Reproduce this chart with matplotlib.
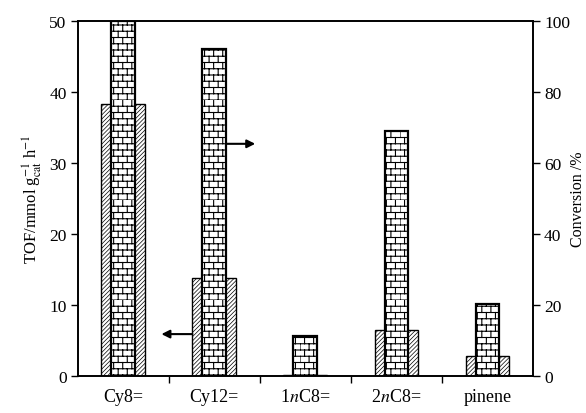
import warnings
import numpy as np
import matplotlib
matplotlib.use("Agg")
import matplotlib.pyplot as plt
from matplotlib import hatch as mhatch
from matplotlib.path import Path

warnings.filterwarnings("ignore")

# data
categories = ["Cy8=", "Cy12=", "1$n$C8=", "2$n$C8=", "pinene"]
tof = [38.3, 13.8, 0.15, 6.5, 2.8]          # mmol g_cat^-1 h^-1 (left axis)
conversion = [100.0, 92.0, 11.3, 69.0, 20.3]  # % (right axis)


class BrickHatch(mhatch.HatchPatternBase):
    """Brick wall hatch, used with the hatch character 'b'."""

    def __init__(self, hatch, density):
        self.rows = 16 if "b" in hatch else 0
        self.cols = 11
        self.num_vertices = (self.rows * 2 + self.rows * self.cols * 2) if self.rows else 0

    def set_vertices_and_codes(self, vertices, codes):
        n, m = self.rows, self.cols
        k = 0
        for i in range(n):
            y0 = i / n
            y1 = (i + 1) / n
            vertices[k] = (0.0, y0)
            vertices[k + 1] = (1.0, y0)
            codes[k] = Path.MOVETO
            codes[k + 1] = Path.LINETO
            k += 2
            off = 0.5 * (i % 2)
            for j in range(m):
                xx = (j + off) / m
                vertices[k] = (xx, y0)
                vertices[k + 1] = (xx, y1)
                codes[k] = Path.MOVETO
                codes[k + 1] = Path.LINETO
                k += 2


mhatch._hatch_types.append(BrickHatch)

plt.rcParams["font.family"] = "Liberation Serif"
plt.rcParams["mathtext.fontset"] = "stix"
plt.rcParams["hatch.linewidth"] = 0.5
plt.rcParams["hatch.color"] = "black"

fig = plt.figure(figsize=(5.86, 4.14), dpi=100)
ax = fig.add_axes([0.1325, 0.0894, 0.7770, 0.8575])
ax2 = ax.twinx()

x = np.arange(len(categories))

ax.bar(x, tof, width=0.48, color="white", edgecolor="black",
       linewidth=1.0, hatch="////////")
plt.rcParams["hatch.linewidth"] = 0.8
ax2.bar(x, conversion, width=0.26, color="white", edgecolor="black",
        linewidth=1.6, hatch="b")

ax.set_xlim(-0.5, len(categories) - 0.5)
ax.set_ylim(0, 50)
ax2.set_ylim(0, 100)

ax.set_yticks(np.arange(0, 51, 10))
ax2.set_yticks(np.arange(0, 101, 20))
ax.set_xticks(x)
ax.set_xticklabels(categories)
ax.set_xticks(np.arange(0.5, len(categories) - 1, 1.0), minor=True)

ax.tick_params(axis="x", which="major", length=0, pad=9, labelsize=13)
ax.tick_params(axis="x", which="minor", length=5, width=1.0, direction="out")
ax.tick_params(axis="y", length=5, width=1.0, direction="out", labelsize=12.5, pad=3)
ax2.tick_params(axis="y", length=5, width=1.0, direction="out", labelsize=12.5, pad=3)

for a in (ax, ax2):
    for s in a.spines.values():
        s.set_linewidth(1.2)

ax.set_ylabel("TOF/mmol g$^{-1}_{\\rm cat}$ h$^{-1}$", fontsize=12, labelpad=4)
ax2.set_ylabel("Conversion /%", fontsize=11.5, labelpad=0)

# arrows pointing to the relevant axis (drawn on the right axis, so y is in %)
arrow = dict(arrowstyle="-|>", color="black", lw=1.5,
             mutation_scale=12, shrinkA=0, shrinkB=0)
ax2.annotate("", xy=(0.42, 11.8), xytext=(0.76, 11.8), arrowprops=arrow)
ax2.annotate("", xy=(1.45, 65.4), xytext=(1.13, 65.4), arrowprops=arrow)

fig.savefig("out.png", dpi=100)
